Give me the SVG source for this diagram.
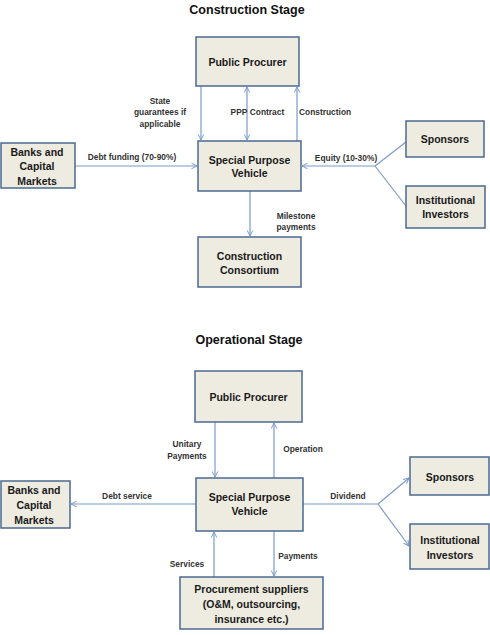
<svg xmlns="http://www.w3.org/2000/svg" width="490" height="635" viewBox="0 0 490 635">
<style>
.box{fill:#EEECE1;stroke:#4A6A91;stroke-width:1.5}
.bt{font-family:"Liberation Sans",Arial,sans-serif;font-weight:bold;font-size:10.5px;fill:#1a1a1a;text-anchor:middle}
.lb{font-family:"Liberation Sans",Arial,sans-serif;font-size:8.4px;fill:#333;text-anchor:middle;font-weight:bold}
.ttl{font-family:"Liberation Sans",Arial,sans-serif;font-weight:bold;font-size:12.5px;fill:#111;text-anchor:middle}
.c{stroke:#7A9CC8;stroke-width:1.2;fill:none}
</style>
<defs>
<marker id="ah" viewBox="0 0 10 10" refX="9" refY="5" markerWidth="7" markerHeight="7" orient="auto-start-reverse" markerUnits="userSpaceOnUse">
<path d="M1,1 L9,5 L1,9" fill="none" stroke="#7A9CC8" stroke-width="1.4"/>
</marker>
</defs>
<rect width="490" height="635" fill="#fff"/>
<text class="ttl" x="247" y="14">Construction Stage</text>
<text class="ttl" x="249" y="344">Operational Stage</text>

<g id="connectors">
<!-- construction -->
<line class="c" x1="201" y1="86" x2="201" y2="140" marker-end="url(#ah)"/>
<line class="c" x1="247" y1="87" x2="247" y2="140" marker-start="url(#ah)" marker-end="url(#ah)"/>
<line class="c" x1="297" y1="141" x2="297" y2="87" marker-end="url(#ah)"/>
<line class="c" x1="75" y1="166" x2="197" y2="166" marker-end="url(#ah)"/>
<line class="c" x1="375" y1="166" x2="302" y2="166" marker-end="url(#ah)"/>
<line class="c" x1="375" y1="166" x2="406" y2="142"/>
<line class="c" x1="375" y1="166" x2="406" y2="206"/>
<line class="c" x1="250" y1="191" x2="250" y2="236" marker-end="url(#ah)"/>
<!-- operational -->
<line class="c" x1="215" y1="422" x2="215" y2="477" marker-end="url(#ah)"/>
<line class="c" x1="274" y1="478" x2="274" y2="423" marker-end="url(#ah)"/>
<line class="c" x1="196" y1="504" x2="71" y2="504" marker-end="url(#ah)"/>
<line class="c" x1="303" y1="504" x2="378" y2="504"/>
<line class="c" x1="378" y1="504" x2="409" y2="478" marker-end="url(#ah)"/>
<line class="c" x1="378" y1="504" x2="409" y2="546" marker-end="url(#ah)"/>
<line class="c" x1="214" y1="577" x2="214" y2="532" marker-end="url(#ah)"/>
<line class="c" x1="274" y1="531" x2="274" y2="576" marker-end="url(#ah)"/>
</g>

<g id="labels">
<text class="lb" x="160" y="104">State</text>
<text class="lb" x="160" y="115">guarantees if</text>
<text class="lb" x="160" y="127">applicable</text>
<text class="lb" x="239" y="115">PPP</text>
<text class="lb" x="267" y="115">Contract</text>
<text class="lb" x="299" y="115" style="text-anchor:start">Construction</text>
<text class="lb" x="132" y="160">Debt funding (70-90%)</text>
<text class="lb" x="346" y="161">Equity (10-30%)</text>
<text class="lb" x="296" y="219">Milestone</text>
<text class="lb" x="296" y="230">payments</text>
<text class="lb" x="187" y="447">Unitary</text>
<text class="lb" x="187" y="459">Payments</text>
<text class="lb" x="303" y="452">Operation</text>
<text class="lb" x="127" y="499">Debt service</text>
<text class="lb" x="348" y="499">Dividend</text>
<text class="lb" x="187" y="567">Services</text>
<text class="lb" x="298" y="559">Payments</text>
</g>

<g id="c-public-procurer"><rect class="box" x="196" y="37" width="103" height="49"/><text class="bt" x="247.5" y="66">Public Procurer</text></g>
<g id="c-spv"><rect class="box" x="198" y="141" width="103" height="50"/><text class="bt" x="249.5" y="164">Special Purpose</text><text class="bt" x="249.5" y="177">Vehicle</text></g>
<g id="c-banks"><rect class="box" x="1" y="143" width="74" height="45"/><text class="bt" x="37" y="156">Banks and</text><text class="bt" x="37" y="170">Capital</text><text class="bt" x="37" y="185">Markets</text></g>
<g id="c-sponsors"><rect class="box" x="406" y="121" width="78" height="36"/><text class="bt" x="445" y="143">Sponsors</text></g>
<g id="c-institutional"><rect class="box" x="406" y="186" width="79" height="42"/><text class="bt" x="445.5" y="204">Institutional</text><text class="bt" x="445.5" y="218">Investors</text></g>
<g id="c-consortium"><rect class="box" x="198" y="237" width="103" height="50"/><text class="bt" x="249.5" y="260">Construction</text><text class="bt" x="249.5" y="274">Consortium</text></g>

<g id="o-public-procurer"><rect class="box" x="195" y="371" width="107" height="51"/><text class="bt" x="248.5" y="401">Public Procurer</text></g>
<g id="o-spv"><rect class="box" x="196" y="478" width="107" height="53"/><text class="bt" x="249.5" y="501">Special Purpose</text><text class="bt" x="249.5" y="515">Vehicle</text></g>
<g id="o-banks"><rect class="box" x="1" y="481" width="69" height="47"/><text class="bt" x="34" y="494">Banks and</text><text class="bt" x="34" y="509">Capital</text><text class="bt" x="34" y="524">Markets</text></g>
<g id="o-sponsors"><rect class="box" x="410" y="457" width="79" height="38"/><text class="bt" x="450" y="481">Sponsors</text></g>
<g id="o-institutional"><rect class="box" x="410" y="524" width="79" height="45"/><text class="bt" x="450" y="544">Institutional</text><text class="bt" x="450" y="559">Investors</text></g>
<g id="o-procurement"><rect class="box" x="180" y="577" width="143" height="52"/><text class="bt" x="251.5" y="593">Procurement suppliers</text><text class="bt" x="251.5" y="608">(O&amp;M, outsourcing,</text><text class="bt" x="251.5" y="623">insurance etc.)</text></g>
</svg>
